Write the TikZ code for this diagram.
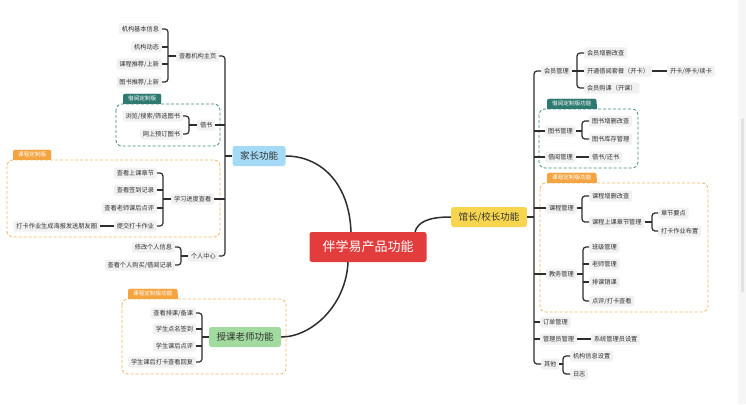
\documentclass[tikz,border=0pt]{standalone}
\usepackage{fontspec}
\setmainfont{Noto Sans CJK SC}
\usetikzlibrary{calc}
\definecolor{ink}{HTML}{2E2E2E}
\definecolor{txt}{HTML}{333333}
\definecolor{leafbg}{HTML}{F1F1F1}
\definecolor{bluec}{HTML}{A4DAF5}
\definecolor{greenc}{HTML}{A2DB9F}
\definecolor{yellowc}{HTML}{F8D54E}
\definecolor{redc}{HTML}{E33C3C}
\definecolor{tealtab}{HTML}{2F7A70}
\definecolor{tealline}{HTML}{3E8A80}
\definecolor{orangetab}{HTML}{F4A440}
\definecolor{orangeline}{HTML}{F6B462}
\definecolor{sbg}{HTML}{F6F6F6}
\definecolor{sthumb}{HTML}{E2E2E2}
\begin{document}
\begin{tikzpicture}[x=1pt,y=-1pt,
  leaf/.style={fill=leafbg, rounded corners=1.5pt, font=\fontsize{6.2}{7}\selectfont, text=txt, inner xsep=2.8pt, inner ysep=0pt, minimum height=11pt},
  mainnode/.style={rounded corners=2.5pt, font=\fontsize{9.5}{11}\selectfont, text=txt, inner xsep=7.5pt, inner ysep=0pt, minimum height=20pt},
  conn/.style={draw=ink, line width=1.2pt, rounded corners=3pt},
  curve/.style={draw=ink, line width=1.5pt},
  tab/.style={font=\fontsize{5.6}{6}\selectfont, text=white, inner xsep=5pt, inner ysep=0pt, minimum height=10pt, rounded corners=2pt},
  dbox/.style={dash pattern=on 3pt off 2pt, line width=0.8pt, rounded corners=6pt}
]
\useasboundingbox (0,0) rectangle (746,404);
\fill[white] (0,0) rectangle (746,404);
\fill[sbg] (738,0) rectangle (746,404);
\fill[sthumb, rounded corners=1.5pt] (741,118) rectangle (744,293);

% ---------- group boxes ----------
\draw[dbox, draw=tealline] (116,104) rectangle (220,146);
\node[tab, fill=tealtab, anchor=south west] (tabA) at (123,104) {借阅定制版};
\fill[tealtab] (tabA.west) rectangle (tabA.south east);
\node[tab, fill=tealtab, anchor=south west, text=white] at (123,104) {借阅定制版};

\draw[dbox, draw=orangeline] (7,160) rectangle (220,237);
\node[tab, fill=orangetab, anchor=south west] (tabB) at (13,160) {课程定制版};
\fill[orangetab] (tabB.west) rectangle (tabB.south east);
\node[tab, fill=orangetab, anchor=south west] at (13,160) {课程定制版};

\draw[dbox, draw=orangeline] (122,299) rectangle (286,374);
\node[tab, fill=orangetab, anchor=south west] (tabC) at (128,299) {课程定制版功能};
\fill[orangetab] (tabC.west) rectangle (tabC.south east);
\node[tab, fill=orangetab, anchor=south west] at (128,299) {课程定制版功能};

\draw[dbox, draw=tealline] (539,109) rectangle (638,168);
\node[tab, fill=tealtab, anchor=south west] (tabD) at (547,109) {借阅定制版功能};
\fill[tealtab] (tabD.west) rectangle (tabD.south east);
\node[tab, fill=tealtab, anchor=south west] at (547,109) {借阅定制版功能};

\draw[dbox, draw=orangeline] (540,183) rectangle (708,312);
\node[tab, fill=orangetab, anchor=south west] (tabE) at (547,183) {课程定制版功能};
\fill[orangetab] (tabE.west) rectangle (tabE.south east);
\node[tab, fill=orangetab, anchor=south west] at (547,183) {课程定制版功能};

% ---------- main nodes ----------
\node[mainnode, fill=redc, text=white, font=\fontsize{13}{15}\selectfont, inner xsep=13pt, minimum height=30pt] (cen) at (368,247) {伴学易产品功能};
\node[mainnode, fill=bluec] (par) at (259,156) {家长功能};
\node[mainnode, fill=greenc] (tea) at (245,337) {授课老师功能};
\node[mainnode, fill=yellowc] (adm) at (489,217) {馆长/校长功能};

\draw[curve] ($(cen.north)+(-17,0)$) .. controls (349,180) and (318,156) .. (par.east);
\draw[curve] ($(cen.south)+(-20,0)$) .. controls (346,305) and (312,337) .. (tea.east);
\draw[curve] ($(cen.north)+(47,0)$) .. controls (418,222) and (428,217) .. (adm.west);

% ---------- parent (left) ----------
\node[leaf, anchor=west] (a) at (176,56) {查看机构主页};
\node[leaf, anchor=east] (a1) at (162,29) {机构基本信息};
\node[leaf, anchor=east] (a2) at (162,47) {机构动态};
\node[leaf, anchor=east] (a3) at (162,64) {课程推荐/上新};
\node[leaf, anchor=east] (a4) at (162,82) {图书推荐/上新};
\coordinate (ab) at ($(a1.east)+(6,0)$);
\draw[conn] (a1.east) -- (ab) |- (a4.east);
\draw[conn] (a2.east) -- (a2.east -| ab);
\draw[conn] (a3.east) -- (a3.east -| ab);
\draw[conn] (a.west) -- (a.west -| ab);

\node[leaf, anchor=west] (b) at (197,125) {借书};
\node[leaf, anchor=east] (b1) at (183,116) {浏览/搜索/筛选图书};
\node[leaf, anchor=east] (b2) at (183,134) {网上预订图书};
\coordinate (bb) at ($(b1.east)+(6,0)$);
\draw[conn] (b1.east) -- (bb) |- (b2.east);
\draw[conn] (b.west) -- (b.west -| bb);

\node[leaf, anchor=west] (c) at (171,199) {学习进度查看};
\node[leaf, anchor=east] (c1) at (157,173) {查看上课章节};
\node[leaf, anchor=east] (c2) at (157,190) {查看签到记录};
\node[leaf, anchor=east] (c3) at (157,208) {查看老师课后点评};
\node[leaf, anchor=east] (c4) at (157,226) {提交打卡作业};
\node[leaf, anchor=east] (c4x) at (100,226) {打卡作业生成海报发送朋友圈};
\coordinate (cb) at ($(c1.east)+(6,0)$);
\draw[conn] (c1.east) -- (cb) |- (c4.east);
\draw[conn] (c2.east) -- (c2.east -| cb);
\draw[conn] (c3.east) -- (c3.east -| cb);
\draw[conn] (c.west) -- (c.west -| cb);
\draw[conn] (c4.west) -- (c4x.east);

\node[leaf, anchor=west] (p) at (188,256) {个人中心};
\node[leaf, anchor=east] (p1) at (175,247) {修改个人信息};
\node[leaf, anchor=east] (p2) at (175,265) {查看个人购买/借阅记录};
\coordinate (pb) at ($(p1.east)+(6,0)$);
\draw[conn] (p1.east) -- (pb) |- (p2.east);
\draw[conn] (p.west) -- (p.west -| pb);

\coordinate (lt) at (225,0);
\draw[conn] (a.east) -- (a.east -| lt) |- (p.east);
\draw[conn] (b.east) -- (b.east -| lt);
\draw[conn] (c.east) -- (c.east -| lt);
\draw[conn] (par.west) -- (par.west -| lt);

% ---------- teacher ----------
\node[leaf, anchor=east] (t1) at (196,313) {查看排课/备课};
\node[leaf, anchor=east] (t2) at (196,329) {学生点名签到};
\node[leaf, anchor=east] (t3) at (196,346) {学生课后点评};
\node[leaf, anchor=east] (t4) at (196,362) {学生课后打卡查看回复};
\coordinate (tb) at ($(t1.east)+(6,0)$);
\draw[conn] (t1.east) -- (tb) |- (t4.east);
\draw[conn] (t2.east) -- (t2.east -| tb);
\draw[conn] (t3.east) -- (t3.east -| tb);
\draw[conn] (tea.west) -- (tea.west -| tb);

% ---------- admin (right) ----------
\node[leaf, anchor=west] (r1) at (541,71) {会员管理};
\node[leaf, anchor=west] (r1a) at (584,53) {会员增删改查};
\node[leaf, anchor=west] (r1b) at (584,71) {开通借阅套餐（开卡）};
\node[leaf, anchor=west] (r1c) at (584,88) {会员购课（开课）};
\node[leaf, anchor=west] (r1bx) at (667,71) {开卡/停卡/续卡};
\coordinate (r1k) at ($(r1a.west)+(-7,0)$);
\draw[conn] (r1a.west) -- (r1k) |- (r1c.west);
\draw[conn] (r1.east) -- (r1b.west);
\draw[conn] (r1b.east) -- (r1bx.west);

\node[leaf, anchor=west] (r2) at (545,131) {图书管理};
\node[leaf, anchor=west] (r2a) at (589,121) {图书增删改查};
\node[leaf, anchor=west] (r2b) at (589,139) {图书库存管理};
\coordinate (r2k) at ($(r2a.west)+(-7,0)$);
\draw[conn] (r2a.west) -- (r2k) |- (r2b.west);
\draw[conn] (r2.east) -- (r2.east -| r2k);

\node[leaf, anchor=west] (r3) at (545,157) {借阅管理};
\node[leaf, anchor=west] (r3a) at (589,157) {借书/还书};
\draw[conn] (r3.east) -- (r3a.west);

\node[leaf, anchor=west] (r4) at (546,208) {课程管理};
\node[leaf, anchor=west] (r4a) at (589,196) {课程增删改查};
\node[leaf, anchor=west] (r4b) at (589,222) {课程上课章节管理};
\node[leaf, anchor=west] (r4b1) at (658,213) {章节要点};
\node[leaf, anchor=west] (r4b2) at (658,231) {打卡作业布置};
\coordinate (r4k) at ($(r4a.west)+(-7,0)$);
\draw[conn] (r4a.west) -- (r4k) |- (r4b.west);
\draw[conn] (r4.east) -- (r4.east -| r4k);
\coordinate (r4bk) at ($(r4b1.west)+(-6,0)$);
\draw[conn] (r4b1.west) -- (r4bk) |- (r4b2.west);
\draw[conn] (r4b.east) -- (r4b.east -| r4bk);

\node[leaf, anchor=west] (r5) at (546,274) {教务管理};
\node[leaf, anchor=west] (r5a) at (589,247) {班级管理};
\node[leaf, anchor=west] (r5b) at (589,264) {老师管理};
\node[leaf, anchor=west] (r5c) at (589,282) {排课销课};
\node[leaf, anchor=west] (r5d) at (589,301) {点评/打卡查看};
\coordinate (r5k) at ($(r5a.west)+(-6,0)$);
\draw[conn] (r5a.west) -- (r5k) |- (r5d.west);
\draw[conn] (r5b.west) -- (r5b.west -| r5k);
\draw[conn] (r5c.west) -- (r5c.west -| r5k);
\draw[conn] (r5.east) -- (r5.east -| r5k);

\node[leaf, anchor=west] (r6) at (540,322) {订单管理};
\node[leaf, anchor=west] (r7) at (540,339) {管理员管理};
\node[leaf, anchor=west] (r7a) at (591,339) {系统管理员设置};
\draw[conn] (r7.east) -- (r7a.west);

\node[leaf, anchor=west] (r8) at (541,364) {其他};
\node[leaf, anchor=west] (r8a) at (570,356) {机构信息设置};
\node[leaf, anchor=west] (r8b) at (570,374) {日志};
\coordinate (r8k) at ($(r8a.west)+(-7,0)$);
\draw[conn] (r8a.west) -- (r8k) |- (r8b.west);
\draw[conn] (r8.east) -- (r8.east -| r8k);

\coordinate (rt) at (534,0);
\draw[conn] (r1.west) -- (r1.west -| rt) |- (r8.west);
\foreach \n in {r2,r3,r4,r5,r6,r7} \draw[conn] (\n.west) -- (\n.west -| rt);
\draw[conn] (adm.east) -- (adm.east -| rt);
\end{tikzpicture}
\end{document}
